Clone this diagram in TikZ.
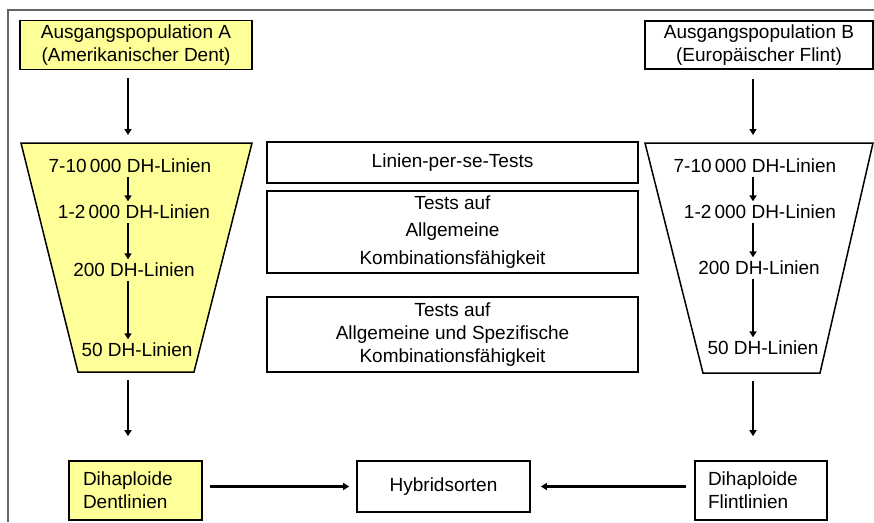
\documentclass[tikz,border=0pt]{standalone}
\usepackage{fontspec}
\setmainfont{Liberation Sans}
\usetikzlibrary{arrows.meta}
\definecolor{popyellow}{HTML}{FFFF99}
\tikzset{
  box/.style={draw=black, line width=1.7pt, align=center, inner sep=0pt,
    font=\fontsize{19}{23}\selectfont},
  yellowbox/.style={box, fill=popyellow},
  lbl/.style={inner sep=4pt, text height=13pt, text depth=0pt,
    font=\fontsize{19}{23}\selectfont},
  funnel/.style={draw=black, line width=1.5pt, line join=miter},
  arr/.style={-{Triangle[length=6pt,width=7pt]}},
  thinarr/.style={arr, line width=1.5pt},
  thickarr/.style={arr, line width=2.8pt},
}
\begin{document}
\begin{tikzpicture}[x=1pt,y=-1pt]
\useasboundingbox (0,0) rectangle (874,522);
% frame
\draw[gray!80!black, line width=1.2pt] (8,522) -- (8,10) -- (874,10);

% starting populations
\node[yellowbox, minimum width=232pt, minimum height=49pt] (popA) at (136,45)
  {Ausgangspopulation A\\(Amerikanischer Dent)};
\node[box, minimum width=228pt, minimum height=48pt] (popB) at (759,45)
  {Ausgangspopulation B\\(Europäischer Flint)};

% funnels
\draw[funnel, fill=popyellow] (21,143) -- (252,143) -- (194,372) -- (78,372) -- cycle;
\draw[funnel, fill=white] (645,143) -- (873,143) -- (820,373) -- (703,373) -- cycle;
\coordinate (Atop) at (128,143);
\coordinate (Abot) at (128,372);
\coordinate (Btop) at (753,143);
\coordinate (Bbot) at (753,373);

% funnel A stages
\node[lbl] (a1) at (130,166) {7-10\,000 DH-Linien};
\node[lbl] (a2) at (134,212) {1-2\,000 DH-Linien};
\node[lbl] (a3) at (134,270) {200 DH-Linien};
\node[lbl] (a4) at (137,350) {50 DH-Linien};
% funnel B stages
\node[lbl] (b1) at (755,166) {7-10\,000 DH-Linien};
\node[lbl] (b2) at (760,212) {1-2\,000 DH-Linien};
\node[lbl] (b3) at (759,268) {200 DH-Linien};
\node[lbl] (b4) at (763,348) {50 DH-Linien};

\draw[thinarr] (a1.south -| Atop) -- (a2.north -| Atop);
\draw[thinarr] (a2.south -| Atop) -- (a3.north -| Atop);
\draw[thinarr] (a3.south -| Atop) -- (a4.north -| Atop);
\draw[thickarr, line width=2.5pt] (b1.south -| Btop) -- (b2.north -| Btop);
\draw[thickarr, line width=2.5pt] (b2.south -| Btop) -- (b3.north -| Btop);
\draw[thickarr, line width=2.5pt] (b3.south -| Btop) -- (b4.north -| Btop);

% tests
\node[box, minimum width=371pt, minimum height=41pt] (t1) at (452.5,162.5)
  {Linien-per-se-Tests};
\node[box, minimum width=371pt, minimum height=82pt,
  font=\fontsize{19}{27.5}\selectfont] (t2) at (452.5,232)
  {Tests auf\\Allgemeine\\Kombinationsfähigkeit};
\node[box, minimum width=371pt, minimum height=75pt] (t3) at (452.5,334.5)
  {Tests auf\\Allgemeine und Spezifische\\Kombinationsfähigkeit};

% resulting lines and hybrids
\node[yellowbox, minimum width=133pt, minimum height=59pt, text width=105pt,
  align=left] (dent) at (135.5,490.5) {Dihaploide\\Dentlinien};
\node[box, minimum width=173pt, minimum height=51pt] (hyb) at (443.5,486.5)
  {Hybridsorten};
\node[box, minimum width=132pt, minimum height=59pt, text width=106pt,
  align=left] (flint) at (761,490.5) {Dihaploide\\Flintlinien};

% connectors
\draw[thinarr, line width=1.7pt, shorten <=8pt, shorten >=8pt]
  (popA.south -| Atop) -- (Atop);
\draw[thickarr, shorten <=9pt, shorten >=8pt]
  (popB.south -| Btop) -- (Btop);
\draw[thinarr, line width=1.7pt, shorten <=8pt, shorten >=24pt]
  (Abot) -- (dent.north -| Abot);
\draw[thickarr, shorten <=8pt, shorten >=24pt]
  (Bbot) -- (flint.north -| Bbot);
\draw[thickarr, line width=3pt, shorten <=7pt, shorten >=7pt]
  (dent.east |- hyb) -- (hyb.west);
\draw[thickarr, line width=3pt, shorten <=8pt, shorten >=10pt]
  (flint.west |- hyb) -- (hyb.east);
\end{tikzpicture}
\end{document}
